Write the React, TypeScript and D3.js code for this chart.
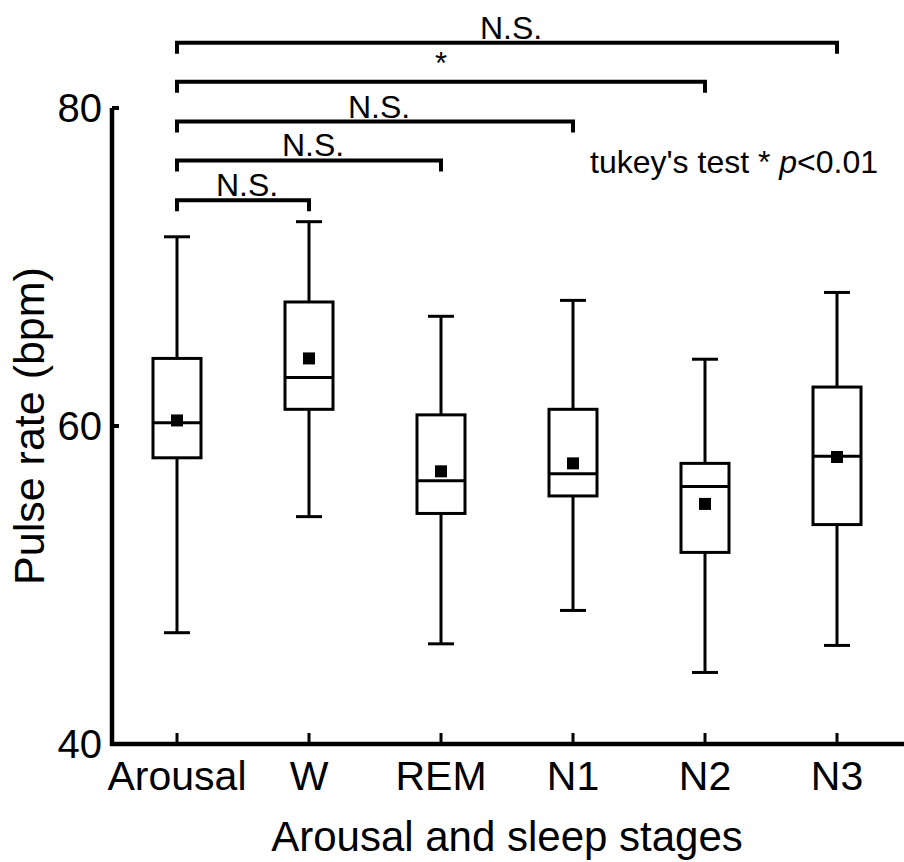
import React from "react";
import * as d3 from "d3";

const categories = ["Arousal", "W", "REM", "N1", "N2", "N3"];
const whiskerLow = [47.0, 54.3, 46.3, 48.4, 44.5, 46.2];
const q1 = [58.0, 61.05, 54.5, 55.6, 52.05, 53.8];
const median = [60.2, 63.05, 56.55, 57.0, 56.2, 58.1];
const q3 = [64.25, 67.8, 60.7, 61.05, 57.65, 62.45];
const whiskerHigh = [71.9, 72.85, 66.9, 67.9, 64.2, 68.4];
const means = [60.35, 64.25, 57.15, 57.65, 55.1, 58.05];

const yTicks = [40, 60, 80];
const compareFrom = ["Arousal", "Arousal", "Arousal", "Arousal", "Arousal"];
const compareTo = ["W", "REM", "N1", "N2", "N3"];
const compareLabels = ["N.S.", "N.S.", "N.S.", "*", "N.S."];
const compareLevels = [74.2, 76.7, 79.15, 81.65, 84.1];

const W = 904;
const H = 862;
const FONT = "'Liberation Sans', Arial, sans-serif";

export default function App() {
  const y = d3.scaleLinear().domain([40, 80]).range([744, 108]);
  const x = d3
    .scalePoint<string>()
    .domain(categories)
    .range([177, 837]);

  const boxW = 48;
  const capW = 26;
  const meanS = 12;

  return (
    <svg
      width={W}
      height={H}
      viewBox={`0 0 ${W} ${H}`}
      style={{ position: "absolute", left: 0, top: 0, background: "#fff" }}
      fontFamily={FONT}
    >
      <rect x={0} y={0} width={W} height={H} fill="#fff" />
      {/* axes */}
      <line x1={112} x2={112} y1={y(80)} y2={y(40) + 2} stroke="#000" strokeWidth={4.5} />
      <line x1={110} x2={W} y1={y(40)} y2={y(40)} stroke="#000" strokeWidth={4.5} />
      {yTicks.map((t) => (
        <g key={t}>
          <line x1={112} x2={119} y1={y(t)} y2={y(t)} stroke="#000" strokeWidth={4} />
          <text
            x={102}
            y={y(t)}
            dy="0.36em"
            textAnchor="end"
            fontSize={40}
            fill="#000"
          >
            {t}
          </text>
        </g>
      ))}
      {categories.map((c) => (
        <g key={c}>
          <line x1={x(c)} x2={x(c)} y1={y(40)} y2={y(40) - 11} stroke="#000" strokeWidth={3} />
          <text x={x(c)} y={790} textAnchor="middle" fontSize={41} fill="#000">
            {c}
          </text>
        </g>
      ))}
      <text x={507} y={851} textAnchor="middle" fontSize={42} fill="#000">
        Arousal and sleep stages
      </text>
      <text
        transform={`translate(44, 426) rotate(-90)`}
        textAnchor="middle"
        fontSize={43}
        fill="#000"
      >
        Pulse rate (bpm)
      </text>

      {/* boxes */}
      {categories.map((c, i) => {
        const cx = x(c) as number;
        return (
          <g key={"b" + c} stroke="#000" strokeWidth={3} fill="none">
            <line x1={cx} x2={cx} y1={y(whiskerHigh[i])} y2={y(q3[i])} />
            <line x1={cx} x2={cx} y1={y(q1[i])} y2={y(whiskerLow[i])} />
            <line x1={cx - capW / 2} x2={cx + capW / 2} y1={y(whiskerHigh[i])} y2={y(whiskerHigh[i])} />
            <line x1={cx - capW / 2} x2={cx + capW / 2} y1={y(whiskerLow[i])} y2={y(whiskerLow[i])} />
            <rect x={cx - boxW / 2} y={y(q3[i])} width={boxW} height={y(q1[i]) - y(q3[i])} />
            <line x1={cx - boxW / 2} x2={cx + boxW / 2} y1={y(median[i])} y2={y(median[i])} />
            <rect
              x={cx - meanS / 2}
              y={y(means[i]) - meanS / 2}
              width={meanS}
              height={meanS}
              fill="#000"
              stroke="none"
            />
          </g>
        );
      })}

      {/* significance brackets */}
      {compareTo.map((to, i) => {
        const x1 = x(compareFrom[i]) as number;
        const x2 = x(to) as number;
        const ly = y(compareLevels[i]);
        const isStar = compareLabels[i] === "*";
        return (
          <g key={"s" + i}>
            <path
              d={`M${x1},${ly + 11} V${ly} H${x2} V${ly + 11}`}
              fill="none"
              stroke="#000"
              strokeWidth={4}
            />
            <text
              x={(x1 + x2) / 2 + (isStar ? 0 : 4)}
              y={isStar ? ly - 2 : ly - 4}
              dy={isStar ? "-0.2em" : 0}
              textAnchor="middle"
              fontSize={isStar ? 31 : 32}
              fill="#000"
            >
              {compareLabels[i]}
            </text>
          </g>
        );
      })}

      <text x={590} y={173} fontSize={32} fill="#000">
        tukey's test *{" "}
        <tspan fontStyle="italic">p</tspan>
        &lt;0.01
      </text>
    </svg>
  );
}
